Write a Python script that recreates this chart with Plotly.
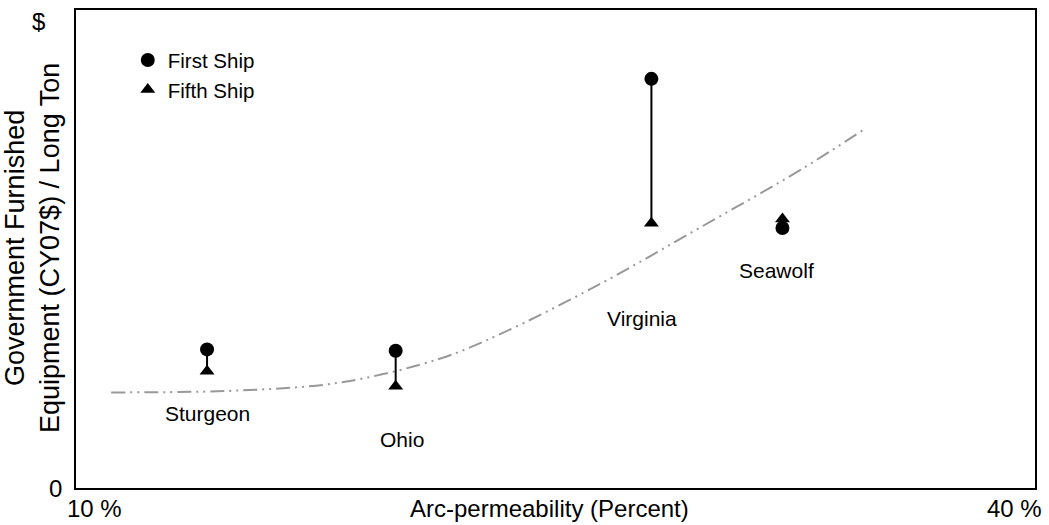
import plotly.graph_objects as go

ships = ["Sturgeon", "Ohio", "Virginia", "Seawolf"]
arc_perm = [14.1, 20.0, 28.0, 32.1]
first_ship = [29.0, 28.7, 85.6, 54.4]
fifth_ship = [24.4, 21.3, 55.4, 56.3]
label_x = [14.1, 20.2, 27.7, 31.9]
label_y = [15.6, 10.2, 35.4, 45.4]

trend_x = [11.1, 15.1, 18.3, 21.4, 23.3, 26.4, 29.5, 32.7, 34.6]
trend_y = [20.0, 20.4, 22.1, 27.1, 32.3, 42.7, 54.4, 66.7, 74.8]

FONT = "Liberation Sans, Arial, sans-serif"

fig = go.Figure()

fig.add_trace(go.Scatter(
    x=trend_x, y=trend_y, mode="lines", line=dict(color="#999999", width=2,
    dash="14px,5px,2px,5px,2px,5px", shape="spline"), showlegend=False, hoverinfo="skip"))

lx, ly = [], []
for x, a, b in zip(arc_perm, first_ship, fifth_ship):
    lx += [x, x, None]
    ly += [a, b, None]
fig.add_trace(go.Scatter(x=lx, y=ly, mode="lines", line=dict(color="black", width=2),
                         showlegend=False, hoverinfo="skip"))

fig.add_trace(go.Scatter(x=arc_perm, y=fifth_ship, mode="markers", name="Fifth Ship",
                         marker=dict(symbol="triangle-up", size=13, color="black")))
fig.add_trace(go.Scatter(x=arc_perm, y=first_ship, mode="markers", name="First Ship",
                         marker=dict(symbol="circle", size=14, color="black")))

for name, x, y in zip(ships, label_x, label_y):
    fig.add_annotation(x=x, y=y, text=name, showarrow=False,
                       font=dict(size=21, color="black", family=FONT))

TXT = dict(size=24, family=FONT, color="black")
# axis end labels (plot area: x 76..1035, y 8..488)
fig.add_annotation(xref="paper", yref="paper", x=0, y=0, text="10 %", showarrow=False,
                   xanchor="center", yanchor="middle", xshift=18, yshift=-20, font=TXT)
fig.add_annotation(xref="paper", yref="paper", x=1, y=0, text="40 %", showarrow=False,
                   xanchor="center", yanchor="middle", xshift=-21, yshift=-20, font=TXT)
fig.add_annotation(xref="paper", yref="paper", x=0, y=0, text="0", showarrow=False,
                   xanchor="center", yanchor="middle", xshift=-21, font=TXT)
fig.add_annotation(xref="paper", yref="paper", x=0, y=1, text="$", showarrow=False,
                   xanchor="center", yanchor="middle", xshift=-38, yshift=-11, font=TXT)
fig.add_annotation(xref="paper", yref="paper", x=0.5, y=0, text="Arc-permeability (Percent)",
                   showarrow=False, xanchor="center", yanchor="middle", xshift=-6, yshift=-20,
                   font=TXT)
fig.add_annotation(xref="paper", yref="paper", x=0, y=0.5,
                   text="Government Furnished<br>Equipment (CY07$) / Long Ton",
                   showarrow=False, textangle=-90, xanchor="center", yanchor="middle",
                   xshift=-44, yshift=1, font=dict(size=27, family=FONT, color="black"))

fig.update_xaxes(range=[10, 40], showgrid=False, zeroline=False, showticklabels=False, ticks="",
                 showline=True, mirror=True, linecolor="black", linewidth=2)
fig.update_yaxes(range=[0, 100], showgrid=False, zeroline=False, showticklabels=False, ticks="",
                 showline=True, mirror=True, linecolor="black", linewidth=2)

fig.update_layout(
    width=1049, height=525, plot_bgcolor="white", paper_bgcolor="white",
    margin=dict(l=76, r=14, t=8, b=37),
    font=dict(family=FONT, size=20, color="black"),
    legend=dict(x=0.054, y=0.937, xanchor="left", yanchor="top", traceorder="reversed",
                bgcolor="rgba(0,0,0,0)", font=dict(size=20.5), itemwidth=30, tracegroupgap=0),
)

fig.write_html("out.html", config={"displayModeBar": False},
               post_script="document.body.style.margin='0';")
